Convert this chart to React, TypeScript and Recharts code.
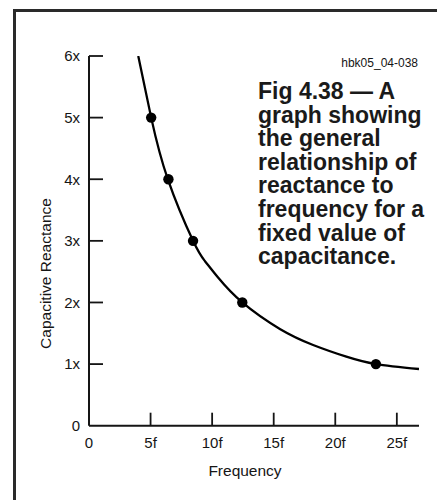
import { ComposedChart, Line, Scatter, XAxis, YAxis } from 'recharts';

// curve (frequency in multiples of f, reactance in multiples of x)
const curveFreq = [4.0, 5.05, 6.4, 8.45, 9.42, 10.5, 12.45, 15.5, 18.2, 20.9, 23.3, 26.8];
const curveReact = [6.0, 5.0, 4.0, 3.0, 2.67, 2.4, 2.0, 1.57, 1.31, 1.12, 1.0, 0.92];

// marked points
const dotFreq = [5.05, 6.45, 8.45, 12.45, 23.3];
const dotReact = [5, 4, 3, 2, 1];

const xTicks = [0, 5, 10, 15, 20, 25];
const yTicks = [0, 1, 2, 3, 4, 5, 6];

const caption = [
  'Fig 4.38 — A',
  'graph showing',
  'the general',
  'relationship of',
  'reactance to',
  'frequency for a',
  'fixed value of',
  'capacitance.',
];

const FONT = "'Liberation Sans', Arial, Helvetica, sans-serif";
const INK = '#151515';

const curveData = curveFreq.map((f, i) => ({ f, r: curveReact[i] }));
const dotData = dotFreq.map((f, i) => ({ f, r: dotReact[i] }));

const Y_MARGIN = 9;
const X_MARGIN = 11.5;

const YTick = (props: any) => {
  const { x, y, payload } = props;
  const v = payload.value;
  return (
    <g>
      <text x={x} y={y} dy="0.36em" textAnchor="end" fontFamily={FONT} fontSize={15} fill={INK}>
        {v === 0 ? '0' : `${v}x`}
      </text>
      {v > 0 && (
        <line x1={x + Y_MARGIN} x2={x + Y_MARGIN + 14} y1={y} y2={y} stroke={INK} strokeWidth={1.8} />
      )}
    </g>
  );
};

const XTick = (props: any) => {
  const { x, y, payload } = props;
  const v = payload.value;
  return (
    <g>
      <text x={x} y={y + 10.5} textAnchor="middle" fontFamily={FONT} fontSize={15} fill={INK}>
        {v === 0 ? '0' : `${v}f`}
      </text>
      {v > 0 && (
        <line x1={x} x2={x} y1={y - X_MARGIN} y2={y - X_MARGIN - 13} stroke={INK} strokeWidth={1.8} />
      )}
    </g>
  );
};

const Dot = (props: any) => <circle cx={props.cx} cy={props.cy} r={5.2} fill="#000" />;

export default function App() {
  return (
    <div style={{ position: 'absolute', left: 0, top: 0, width: 437, height: 500, background: '#fff' }}>
      <ComposedChart
        width={437}
        height={500}
        margin={{ top: 56, right: 18, bottom: 73.3, left: 88 }}
      >
        <XAxis
          type="number"
          dataKey="f"
          domain={[0, 26.8]}
          ticks={xTicks}
          height={1}
          tickSize={0}
          tickMargin={X_MARGIN}
          tickLine={false}
          tick={XTick}
          axisLine={{ stroke: INK, strokeWidth: 2 }}
          allowDataOverflow
          interval={0}
        />
        <YAxis
          type="number"
          dataKey="r"
          domain={[0, 6]}
          ticks={yTicks}
          width={1}
          tickSize={0}
          tickMargin={Y_MARGIN}
          tickLine={false}
          tick={YTick}
          axisLine={{ stroke: INK, strokeWidth: 2 }}
          allowDataOverflow
          interval={0}
        />
        <Line
          data={curveData}
          dataKey="r"
          type="natural"
          stroke="#000"
          strokeWidth={2.3}
          dot={false}
          activeDot={false}
          isAnimationActive={false}
        />
        <Scatter data={dotData} dataKey="r" shape={Dot} isAnimationActive={false} />
      </ComposedChart>

      <svg
        width={437}
        height={500}
        style={{ position: 'absolute', left: 0, top: 0, pointerEvents: 'none' }}
      >
        <rect x={13} y={9} width={3} height={491} fill="#2a2a2a" />
        <rect x={13} y={9} width={424} height={3} fill="#2a2a2a" />
        <text x={418} y={66.5} textAnchor="end" fontFamily={FONT} fontSize={12} fill={INK}>
          hbk05_04-038
        </text>
        {caption.map((line, i) => (
          <text
            key={line}
            x={258}
            y={99 + i * 23.6}
            fontFamily={FONT}
            fontSize={23}
            fontWeight="bold"
            fill="#1a1a1a"
          >
            {line}
          </text>
        ))}
        <text x={245} y={476} textAnchor="middle" fontFamily={FONT} fontSize={15.5} fill={INK}>
          Frequency
        </text>
        <text
          x={50.5}
          y={273.5}
          textAnchor="middle"
          fontFamily={FONT}
          fontSize={15.5}
          fill={INK}
          transform="rotate(-90, 50.5, 273.5)"
        >
          Capacitive Reactance
        </text>
      </svg>
    </div>
  );
}
